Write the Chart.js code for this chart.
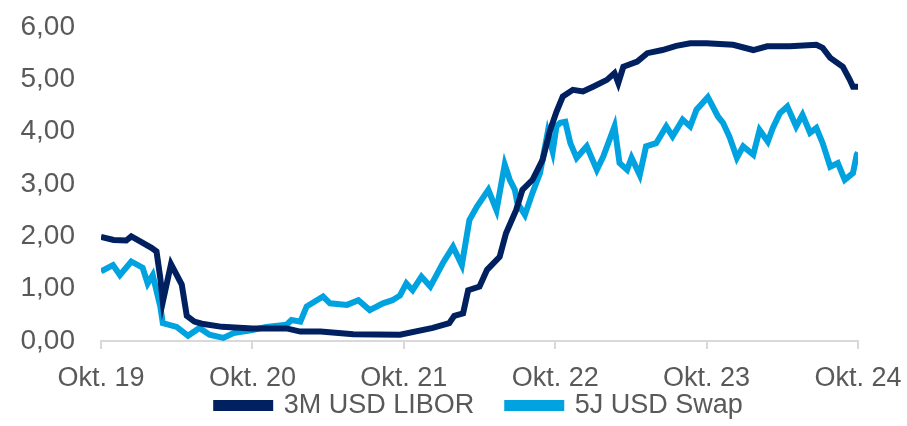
<!DOCTYPE html>
<html>
<head>
<meta charset="utf-8">
<script src="https://cdn.jsdelivr.net/npm/chart.js@4.4.1/dist/chart.umd.min.js"></script>
<style>
  html, body { margin: 0; padding: 0; background: #fff; }
  #wrap { width: 907px; height: 426px; }
</style>
</head>
<body>
<div id="wrap"><canvas id="zinsen"></canvas></div>
<script>
// Monate seit Okt. 2019
var xTicks = ["Okt. 19", "Okt. 20", "Okt. 21", "Okt. 22", "Okt. 23", "Okt. 24"];

var liborMonate = [0, 1, 2, 2.4, 3, 4, 4.4, 4.7, 4.9, 5.55, 6.4, 6.8, 7.4, 8, 9.6, 12, 14.7, 15.8, 17.4, 20, 23.7, 26.3, 27.6, 28, 28.7, 29.1, 30, 30.6, 31.6, 32.1, 32.9, 33.4, 34.2, 35, 35.6, 36.1, 36.6, 37.4, 38.2, 39, 40.1, 40.7, 41, 41.4, 42.5, 43.3, 44.5, 45.6, 46.7, 48, 50.1, 51.7, 52.8, 54.6, 56.7, 57.2, 57.8, 58.8, 59.35, 59.6, 60];
var liborWerte  = [1.99, 1.93, 1.92, 2.0, 1.92, 1.78, 1.71, 1.2, 0.75, 1.47, 1.08, 0.48, 0.37, 0.33, 0.27, 0.24, 0.24, 0.18, 0.18, 0.13, 0.12, 0.25, 0.34, 0.48, 0.53, 0.97, 1.04, 1.36, 1.61, 2.06, 2.5, 2.89, 3.08, 3.46, 4.03, 4.38, 4.67, 4.8, 4.77, 4.86, 4.99, 5.12, 4.93, 5.24, 5.34, 5.5, 5.56, 5.64, 5.69, 5.69, 5.66, 5.56, 5.63, 5.63, 5.66, 5.6, 5.41, 5.24, 4.99, 4.86, 4.86];

var swapMonate = [0, 0.95, 1.5, 2.4, 3.3, 3.7, 4.1, 4.7, 4.9, 6, 6.9, 7.8, 8.6, 9.7, 10.5, 12, 13.1, 14.7, 15.1, 15.8, 16.3, 17.6, 18.15, 19.5, 20.4, 21.3, 22.35, 23.1, 23.7, 24.2, 24.7, 25.4, 26.1, 27.1, 27.9, 28.6, 29.2, 29.8, 30.7, 31.35, 32, 32.4, 32.8, 33, 33.6, 34.2, 34.8, 35.4, 35.8, 36.1, 36.4, 36.8, 37.2, 37.7, 38.5, 39.3, 39.8, 40.7, 41.1, 41.7, 42.05, 42.7, 43.2, 44, 44.8, 45.3, 46.1, 46.7, 47.2, 48.1, 48.9, 49.3, 49.8, 50.4, 50.9, 51.7, 52.2, 52.85, 53.25, 53.8, 54.4, 55.1, 55.6, 56.2, 56.7, 57.2, 57.8, 58.4, 58.95, 59.6, 59.9, 60];
var swapWerte  = [1.33, 1.45, 1.26, 1.52, 1.4, 1.1, 1.26, 0.66, 0.34, 0.27, 0.1, 0.25, 0.12, 0.06, 0.15, 0.21, 0.27, 0.31, 0.4, 0.37, 0.66, 0.85, 0.72, 0.69, 0.78, 0.59, 0.72, 0.78, 0.87, 1.1, 0.97, 1.23, 1.04, 1.49, 1.8, 1.45, 2.31, 2.57, 2.89, 2.5, 3.37, 3.08, 2.89, 2.64, 2.41, 2.83, 3.21, 3.98, 3.62, 4.1, 4.17, 4.19, 3.78, 3.5, 3.72, 3.27, 3.52, 4.1, 3.4, 3.27, 3.5, 3.17, 3.72, 3.78, 4.1, 3.91, 4.23, 4.1, 4.42, 4.66, 4.29, 4.17, 3.91, 3.5, 3.72, 3.56, 4.03, 3.81, 4.07, 4.35, 4.48, 4.1, 4.32, 3.98, 4.07, 3.78, 3.33, 3.4, 3.08, 3.21, 3.56, 3.6];

function punkte(xs, ys) {
  return xs.map(function (x, i) { return {x: x, y: ys[i]}; });
}

var grau = "#595959";
var schrift = {family: "'Liberation Sans', Arial, sans-serif", size: 27};

// Legende: kleine Hoehe im Layout, Oberkante danach nach oben gezogen
var legendeLage = {
  id: "legendeLage",
  beforeInit: function (chart) {
    var fit = chart.legend.fit;
    chart.legend.fit = function () {
      fit.call(this);
      this.height = 32;
    };
  },
  afterLayout: function (chart) {
    chart.legend.top -= 35;
  }
};

new Chart("zinsen", {
  type: "line",
  data: {
    datasets: [{
      label: "3M USD LIBOR",
      data: punkte(liborMonate, liborWerte),
      borderColor: "#002060",
      backgroundColor: "#002060",
      borderWidth: 6,
      pointRadius: 0,
      tension: 0
    }, {
      label: "5J USD Swap",
      data: punkte(swapMonate, swapWerte),
      borderColor: "#00A3E0",
      backgroundColor: "#00A3E0",
      borderWidth: 6,
      pointRadius: 0,
      tension: 0
    }]
  },
  plugins: [legendeLage],
  options: {
    responsive: true,
    maintainAspectRatio: false,
    animation: false,
    layout: {autoPadding: false, padding: {top: 27, right: 49, left: 0, bottom: 0}},
    plugins: {
      tooltip: {enabled: false},
      legend: {
        display: true,
        position: "bottom",
        fullSize: false,
        labels: {
          color: grau,
          font: schrift,
          boxWidth: 54,
          boxHeight: 5,
          padding: 33
        }
      }
    },
    scales: {
      x: {
        type: "linear",
        min: 0,
        max: 60,
        grid: {display: true, drawOnChartArea: false, color: "#d9d9d9", lineWidth: 2, tickLength: 8},
        border: {display: true, color: "#d9d9d9", width: 2},
        ticks: {
          stepSize: 12,
          color: grau,
          font: schrift,
          padding: 13,
          maxRotation: 0,
          callback: function (v) { return xTicks[v / 12]; }
        },
        afterFit: function (scale) {
          scale.height = 53;
          scale.paddingLeft = 0;
          scale.paddingRight = 0;
        }
      },
      y: {
        min: 0,
        max: 6,
        grid: {display: false, drawTicks: false},
        border: {display: false},
        ticks: {
          stepSize: 1,
          color: grau,
          font: {family: schrift.family, size: 28},
          padding: 26,
          callback: function (v) { return v.toFixed(2).replace(".", ","); }
        },
        afterFit: function (scale) {
          scale.width = 101;
          scale.paddingTop = 0;
          scale.paddingBottom = 0;
        }
      }
    }
  }
});
</script>
</body>
</html>
